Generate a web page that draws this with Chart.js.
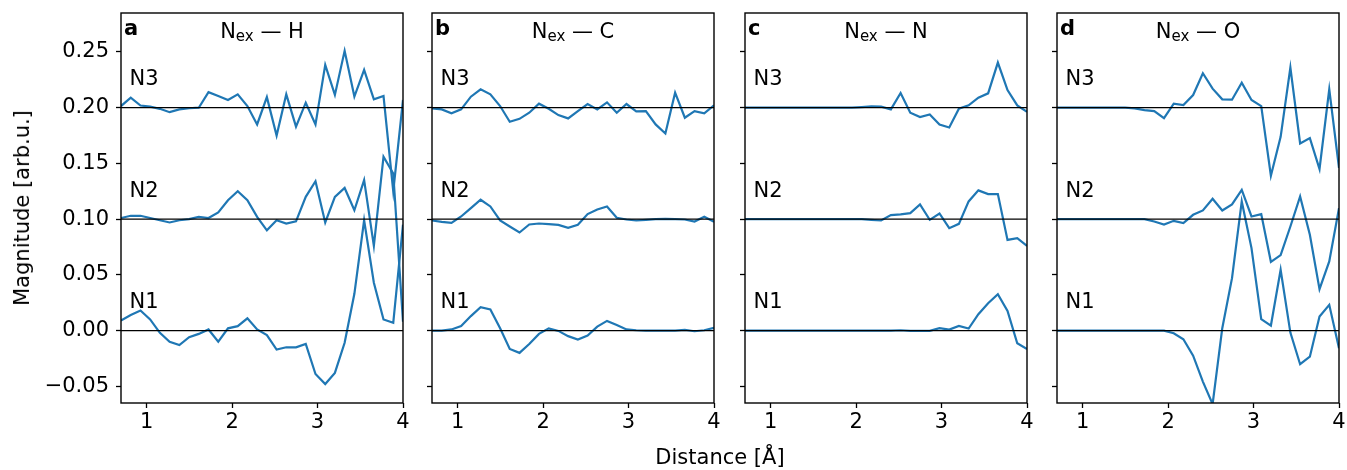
<!DOCTYPE html>
<html>
<head>
<meta charset="utf-8">
<script src="https://cdn.jsdelivr.net/npm/chart.js@4"></script>
<style>
  body { margin: 0; background: #fff; }
  #fig { position: relative; width: 1347px; height: 470px; font-family: "DejaVu Sans", sans-serif; color: #000; }
  #fig canvas { position: absolute; top: 0; }
  #xlabel { position: absolute; left: 620px; width: 200px; top: 445px; text-align: center; font-size: 21px; }
  #ylabel { position: absolute; left: 22px; top: 208px; font-size: 21px; white-space: nowrap;
            transform: translate(-50%, -50%) rotate(-90deg); }
</style>
</head>
<body>
<div id="fig">
  <canvas id="panel0" width="402" height="470"></canvas>
  <canvas id="panel1" width="402" height="470"></canvas>
  <canvas id="panel2" width="402" height="470"></canvas>
  <canvas id="panel3" width="402" height="470"></canvas>
  <div id="xlabel">Distance [Å]</div>
  <div id="ylabel">Magnitude [arb.u.]</div>
</div>
<script>

// DATA ########################################################################

var distance = [0.700, 0.814, 0.928, 1.041, 1.155, 1.269, 1.383, 1.497, 1.610, 1.724,
                1.838, 1.952, 2.066, 2.179, 2.293, 2.407, 2.521, 2.634, 2.748, 2.862,
                2.976, 3.090, 3.203, 3.317, 3.431, 3.545, 3.659, 3.772, 3.886, 4.000];

var panelLetters = ["a", "b", "c", "d"];
var panelElements = ["H", "C", "N", "O"];
var seriesNames = ["N1", "N2", "N3"];
var baselines = [0.0, 0.1, 0.2];
var xTicks = [1, 2, 3, 4];
var yTicks = [-0.05, 0.0, 0.05, 0.10, 0.15, 0.20, 0.25];

// N_ex - H
var hN1 = [0.009, 0.014, 0.018, 0.010, -0.002, -0.010, -0.013, -0.006, -0.003, 0.001,
           -0.010, 0.002, 0.004, 0.011, 0.001, -0.004, -0.017, -0.015, -0.015, -0.012,
           -0.039, -0.048, -0.038, -0.011, 0.033, 0.099, 0.043, 0.010, 0.007, 0.095];
var hN2 = [0.101, 0.103, 0.103, 0.101, 0.099, 0.097, 0.099, 0.100, 0.102, 0.101,
           0.106, 0.117, 0.125, 0.117, 0.102, 0.090, 0.099, 0.096, 0.098, 0.120,
           0.134, 0.097, 0.120, 0.128, 0.108, 0.135, 0.076, 0.156, 0.141, 0.008];
var hN3 = [0.2015, 0.209, 0.202, 0.201, 0.199, 0.196, 0.1985, 0.1995, 0.200, 0.214,
           0.2105, 0.207, 0.212, 0.2015, 0.185, 0.2095, 0.175, 0.212, 0.183, 0.2045,
           0.185, 0.2385, 0.2115, 0.251, 0.210, 0.234, 0.2075, 0.2105, 0.125, 0.207];

// N_ex - C
var cN1 = [0.000, 0.000, 0.001, 0.004, 0.013, 0.021, 0.019, 0.002, -0.0165, -0.020,
           -0.012, -0.003, 0.002, -0.0003, -0.005, -0.008, -0.0045, 0.0035, 0.0087, 0.005,
           0.001, 0.0003, 0.000, 0.000, 0.000, 0.000, 0.0006, -0.0006, 0.0003, 0.0024];
var cN2 = [0.0988, 0.0976, 0.0967, 0.1024, 0.1099, 0.1174, 0.1114, 0.0988, 0.0934, 0.0880,
           0.0952, 0.0961, 0.0955, 0.0949, 0.0922, 0.0949, 0.1045, 0.1087, 0.1114, 0.1012,
           0.0997, 0.0988, 0.0994, 0.1000, 0.1003, 0.1000, 0.0997, 0.0979, 0.1021, 0.0976];
var cN3 = [0.1994, 0.1985, 0.1950, 0.1985, 0.2099, 0.2165, 0.2120, 0.2015, 0.1874, 0.1900,
           0.1955, 0.2036, 0.1991, 0.1934, 0.1904, 0.1970, 0.2033, 0.1985, 0.2048, 0.1955,
           0.2033, 0.1967, 0.1970, 0.1850, 0.1769, 0.2135, 0.1910, 0.1970, 0.1950, 0.2021];

// N_ex - N
var nN1 = [0.000, 0.000, 0.000, 0.000, 0.000, 0.000, 0.000, 0.000, 0.000, 0.000,
           0.000, 0.000, 0.000, 0.000, 0.000, 0.000, 0.0003, -0.0003, -0.0003, -0.0003,
           0.0021, 0.0009, 0.0042, 0.0018, 0.0147, 0.0246, 0.0327, 0.0177, -0.0114, -0.0165];
var nN2 = [0.100, 0.100, 0.100, 0.100, 0.100, 0.100, 0.100, 0.100, 0.100, 0.100,
           0.100, 0.100, 0.100, 0.0994, 0.0988, 0.1036, 0.1042, 0.1054, 0.1132, 0.0994,
           0.1051, 0.0919, 0.0958, 0.1159, 0.1258, 0.1225, 0.1225, 0.0814, 0.0829, 0.0760];
var nN3 = [0.200, 0.200, 0.200, 0.200, 0.200, 0.200, 0.200, 0.200, 0.200, 0.200,
           0.200, 0.200, 0.2006, 0.2012, 0.2009, 0.1985, 0.2132, 0.1955, 0.1916, 0.1940,
           0.1850, 0.1823, 0.1991, 0.2021, 0.2090, 0.2129, 0.2405, 0.2159, 0.2021, 0.1964];

// N_ex - O
var oN1 = [0.000, 0.000, 0.000, 0.000, 0.000, 0.000, 0.000, 0.000, 0.000, 0.000,
           0.000, 0.000, -0.0024, -0.0078, -0.0225, -0.0458, -0.066, 0.0021, 0.047, 0.1159,
           0.074, 0.0102, 0.0045, 0.0545, -0.0018, -0.0302, -0.0234, 0.0126, 0.0231, -0.0159];
var oN2 = [0.100, 0.100, 0.100, 0.100, 0.100, 0.100, 0.100, 0.100, 0.100, 0.100,
           0.0979, 0.0952, 0.0985, 0.0964, 0.1039, 0.1078, 0.1183, 0.1078, 0.1132, 0.1263,
           0.1024, 0.1045, 0.0617, 0.0677, 0.0934, 0.1204, 0.0859, 0.0371, 0.0620, 0.1099];
var oN3 = [0.200, 0.200, 0.200, 0.200, 0.200, 0.200, 0.200, 0.200, 0.1994, 0.1979,
           0.1970, 0.1907, 0.2036, 0.2024, 0.2114, 0.2309, 0.2171, 0.2075, 0.2072, 0.2225,
           0.2069, 0.2015, 0.1390, 0.1739, 0.2360, 0.1679, 0.1727, 0.1450, 0.2165, 0.1460];

var panelSeries = [[hN1, hN2, hN3], [cN1, cN2, cN3], [nN1, nN2, nN3], [oN1, oN2, oN3]];


// LAYOUT ######################################################################

var xMin = 0.7, xMax = 4.0;
var yMin = -0.065, yMax = 0.285;
var plotLefts = [121, 432, 745, 1057];
var yAxisWidth = 110;
var fontFamily = "'DejaVu Sans', sans-serif";
var blue = "#1f77b4";

Chart.defaults.font.family = fontFamily;
Chart.defaults.font.size = 21;
Chart.defaults.color = "#000";


// PANELS ######################################################################

function makeTextPlugin(idx) {
    return {
        id: "panelText" + idx,
        afterDraw: function (chart) {
            var ctx = chart.ctx;
            var area = chart.chartArea;
            var xs = chart.scales.x;
            var ys = chart.scales.y;
            ctx.save();

            // frame round the axes
            ctx.strokeStyle = "#000";
            ctx.lineWidth = 1.4;
            ctx.strokeRect(area.left, area.top, area.right - area.left, area.bottom - area.top);

            ctx.fillStyle = "#000";
            ctx.textBaseline = "alphabetic";
            ctx.textAlign = "left";

            // series labels
            ctx.font = "21px " + fontFamily;
            for (var k = 0; k < seriesNames.length; k++) {
                ctx.fillText(seriesNames[k], xs.getPixelForValue(0.8), ys.getPixelForValue(baselines[k] + 0.02));
            }

            // panel letter
            ctx.font = "bold 21px " + fontFamily;
            ctx.fillText(panelLetters[idx], area.left + 3, 34.5);

            // title N_ex - element
            var big = "21px " + fontFamily;
            var small = "15px " + fontFamily;
            var tail = " \u2014 " + panelElements[idx];
            ctx.font = big;
            var wN = ctx.measureText("N").width;
            var wTail = ctx.measureText(tail).width;
            ctx.font = small;
            var wSub = ctx.measureText("ex").width;
            var x0 = (area.left + area.right) / 2 - (wN + wSub + wTail) / 2;
            ctx.font = big;
            ctx.fillText("N", x0, 37.5);
            ctx.font = small;
            ctx.fillText("ex", x0 + wN, 40.5);
            ctx.font = big;
            ctx.fillText(tail, x0 + wN + wSub, 37.5);

            ctx.restore();
        }
    };
}

function makePanel(idx) {
    var canvas = document.getElementById("panel" + idx);
    canvas.style.left = (plotLefts[idx] - yAxisWidth) + "px";

    var datasets = [];
    for (var k = 0; k < baselines.length; k++) {
        datasets.push({
            label: "base" + k,
            data: [{x: xMin, y: baselines[k]}, {x: xMax, y: baselines[k]}],
            borderColor: "#000",
            borderWidth: 1.2,
            pointRadius: 0,
            order: 0
        });
    }
    var series = panelSeries[idx];
    for (var s = 0; s < series.length; s++) {
        datasets.push({
            label: seriesNames[s],
            data: distance.map(function (d, i) { return {x: d, y: series[s][i]}; }),
            borderColor: blue,
            borderWidth: 2.2,
            pointRadius: 0,
            tension: 0,
            order: 1
        });
    }

    new Chart(canvas, {
        type: "line",
        data: {datasets: datasets},
        options: {
            responsive: false,
            animation: false,
            layout: {padding: {top: 13, right: 10, left: 0, bottom: 0}},
            plugins: {legend: {display: false}, tooltip: {enabled: false}},
            scales: {
                x: {
                    type: "linear",
                    min: xMin,
                    max: xMax,
                    afterBuildTicks: function (scale) {
                        scale.ticks = xTicks.map(function (v) { return {value: v}; });
                    },
                    afterFit: function (scale) {
                        scale.height = 67;
                        scale.paddingLeft = 0;
                        scale.paddingRight = 0;
                    },
                    ticks: {autoSkip: false, maxRotation: 0, padding: 2,
                            callback: function (v) { return String(v); }},
                    grid: {drawOnChartArea: false, drawTicks: true, tickLength: 5,
                           tickWidth: 1.3, tickColor: "#000"},
                    border: {display: false}
                },
                y: {
                    type: "linear",
                    min: yMin,
                    max: yMax,
                    afterBuildTicks: function (scale) {
                        scale.ticks = yTicks.map(function (v) { return {value: v}; });
                    },
                    afterFit: function (scale) {
                        scale.width = yAxisWidth;
                        scale.paddingTop = 0;
                        scale.paddingBottom = 0;
                    },
                    ticks: {autoSkip: false, padding: 7,
                            callback: function (v) {
                                if (idx > 0) { return ""; }
                                return v.toFixed(2).replace("-", "\u2212");
                            }},
                    grid: {drawOnChartArea: false, drawTicks: true, tickLength: 5,
                           tickWidth: 1.3, tickColor: "#000"},
                    border: {display: false}
                }
            }
        },
        plugins: [makeTextPlugin(idx)]
    });
}

for (var p = 0; p < 4; p++) {
    makePanel(p);
}

</script>
</body>
</html>
